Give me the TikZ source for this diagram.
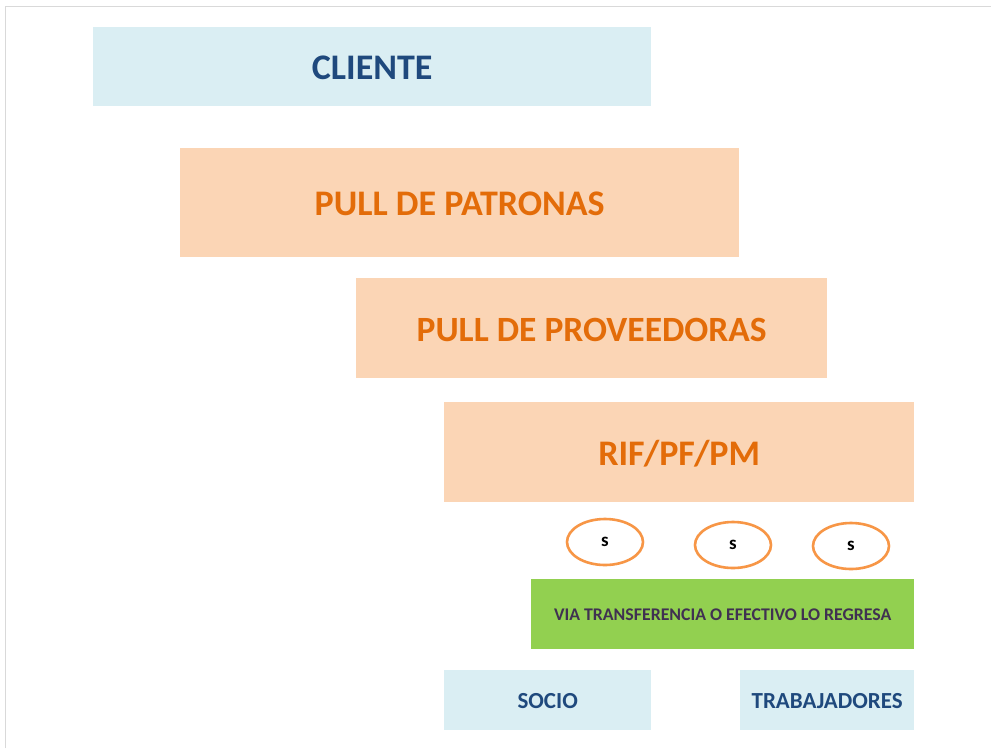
\documentclass[tikz,border=0pt]{standalone}
\usepackage{fontspec}
\setmainfont{Carlito}
\usetikzlibrary{shapes.geometric}
\definecolor{lblue}{HTML}{DAEEF3}
\definecolor{dblue}{HTML}{1F497D}
\definecolor{peach}{HTML}{FBD5B5}
\definecolor{orng}{HTML}{E36C09}
\definecolor{ering}{HTML}{F79646}
\definecolor{lgreen}{HTML}{92D050}
\definecolor{gtext}{HTML}{403151}
\definecolor{frame}{HTML}{D9D9D9}
\tikzset{
  box/.style={draw=none, inner sep=0pt, anchor=north west},
  bluebox/.style={box, fill=lblue, text=dblue, font=\bfseries},
  peachbox/.style={box, fill=peach, text=orng, font=\bfseries},
  greenbox/.style={box, fill=lgreen, text=gtext, font=\bfseries},
  ring/.style={ellipse, draw=ering, line width=2.6pt, fill=white, minimum width=76pt, minimum height=46pt, inner sep=0pt, font=\bfseries\fontsize{19}{21}\selectfont},
}
\begin{document}
\begin{tikzpicture}[x=1pt,y=-1pt]
\useasboundingbox (0,0) rectangle (991,748);
\fill[white] (0,0) rectangle (991,748);
\draw[frame, line width=1.5pt] (5.5,748) -- (5.5,6.5) -- (991,6.5);
\node[bluebox, minimum width=558pt, minimum height=79pt] (cli) at (93,27) {};
\node[text=dblue, font=\bfseries\fontsize{36}{40}\selectfont] (clit) at ([yshift=-1.5pt]cli.center) {CLIENTE};
\node[peachbox, minimum width=559pt, minimum height=109pt] (pat) at (180,148) {};
\node[text=orng, font=\bfseries\fontsize{36}{40}\selectfont] (patt) at ([yshift=-1.5pt]pat.center) {PULL DE PATRONAS};
\node[peachbox, minimum width=471pt, minimum height=100pt] (pro) at (356,278) {};
\node[text=orng, font=\bfseries\fontsize{35.5}{40}\selectfont] (prot) at ([yshift=-1.5pt]pro.center) {PULL DE PROVEEDORAS};
\node[peachbox, minimum width=470pt, minimum height=100pt] (rif) at (444,402) {};
\node[text=orng, font=\bfseries\fontsize{36}{40}\selectfont] (rift) at ([yshift=-1.5pt]rif.center) {RIF/PF/PM};
\node[ring] (s1) at (605,542) {s};
\node[ring] (s2) at (733,545) {s};
\node[ring] (s3) at (851,546) {s};
\node[greenbox, minimum width=383pt, minimum height=70pt] (via) at (531,579) {};
\node[text=gtext, font=\bfseries\fontsize{17.8}{20}\selectfont] (viat) at ([yshift=-1pt]via.center) {VIA TRANSFERENCIA O EFECTIVO LO REGRESA};
\node[bluebox, minimum width=207pt, minimum height=60pt] (soc) at (444,670) {};
\node[text=dblue, font=\bfseries\fontsize{23}{26}\selectfont] (soct) at ([yshift=-1pt]soc.center) {SOCIO};
\node[bluebox, minimum width=174pt, minimum height=60pt] (tra) at (740,670) {};
\node[text=dblue, font=\bfseries\fontsize{23}{26}\selectfont] (trat) at ([yshift=-1pt]tra.center) {TRABAJADORES};
\end{tikzpicture}
\end{document}
